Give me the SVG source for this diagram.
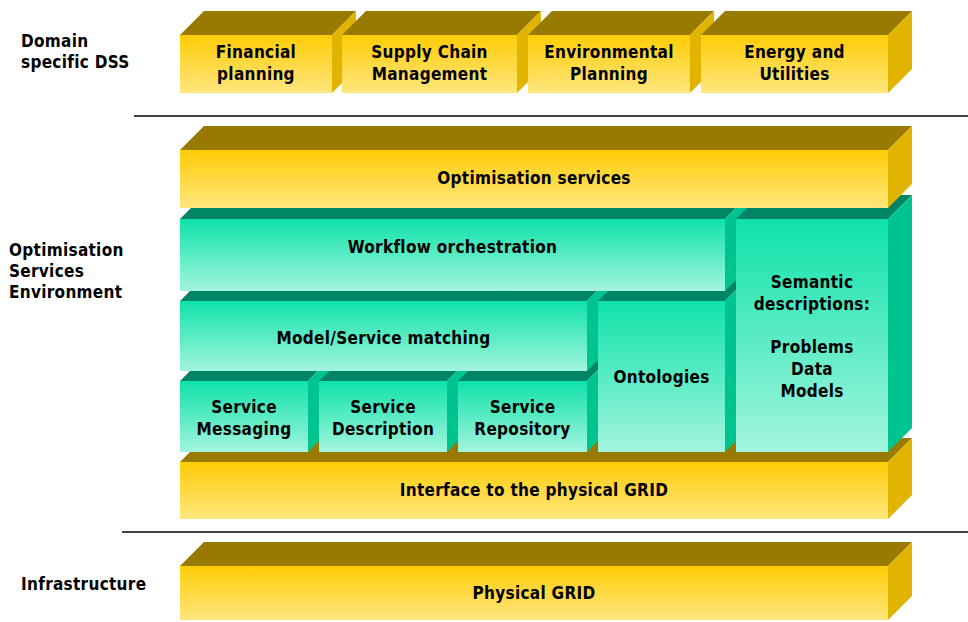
<svg xmlns="http://www.w3.org/2000/svg" width="968" height="622" viewBox="0 0 968 622">
<defs>
<linearGradient id="gy" x1="0" y1="0" x2="0" y2="1">
<stop offset="0" stop-color="#FFCC05"/>
<stop offset="1" stop-color="#FFE67F"/>
</linearGradient>
<linearGradient id="gg" x1="0" y1="0" x2="0" y2="1">
<stop offset="0" stop-color="#0FE2A9"/>
<stop offset="1" stop-color="#A3F5DE"/>
</linearGradient>
<style>
.yt{fill:#997A00}
.yr{fill:#E0B400}
.yf{fill:url(#gy)}
.gt{fill:#008564}
.gr{fill:#00C48F}
.gf{fill:url(#gg)}
.t{font-family:"DejaVu Sans","Liberation Sans",sans-serif;font-weight:bold;font-stretch:condensed;font-size:17px;letter-spacing:0.3px;fill:#000;text-anchor:middle}
.l{font-family:"DejaVu Sans","Liberation Sans",sans-serif;font-weight:bold;font-stretch:condensed;font-size:17px;letter-spacing:0.3px;fill:#000;text-anchor:start}
.sep{stroke:#000;stroke-width:1.5;fill:none}
</style>
</defs>
<g id="connectors">
<line class="sep" x1="134" y1="116" x2="968" y2="116"/>
<line class="sep" x1="122" y1="532" x2="968" y2="532"/>
</g>
<g id="labels">
<text class="l" x="21" y="47">Domain</text>
<text class="l" x="21" y="68">specific DSS</text>
<text class="l" x="9" y="256">Optimisation</text>
<text class="l" x="9" y="277">Services</text>
<text class="l" x="9" y="298">Environment</text>
<text class="l" x="21" y="590">Infrastructure</text>
</g>
<g id="physical-grid">
<polygon class="yt" points="180,566 204,542 912,542 888,566"/>
<polygon class="yr" points="888,566 912,542 912,596 888,620"/>
<rect class="yf" x="180" y="566" width="708" height="54"/>
<text class="t" x="534" y="599">Physical GRID</text>
</g>
<g id="interface">
<polygon class="yt" points="180,462 204,438 912,438 888,462"/>
<polygon class="yr" points="888,462 912,438 912,495 888,519"/>
<rect class="yf" x="180" y="462" width="708" height="57"/>
<text class="t" x="534" y="496">Interface to the physical GRID</text>
</g>
<g id="service-messaging">
<polygon class="gt" points="180,381 204,357 332,357 308,381"/>
<polygon class="gr" points="308,381 332,357 332,428 308,452"/>
<rect class="gf" x="180" y="381" width="128" height="71"/>
<text class="t" x="244" y="413">Service</text>
<text class="t" x="244" y="435">Messaging</text>
</g>
<g id="service-description">
<polygon class="gt" points="319,381 343,357 471,357 447,381"/>
<polygon class="gr" points="447,381 471,357 471,428 447,452"/>
<rect class="gf" x="319" y="381" width="128" height="71"/>
<text class="t" x="383" y="413">Service</text>
<text class="t" x="383" y="435">Description</text>
</g>
<g id="service-repository">
<polygon class="gt" points="458,381 482,357 611,357 587,381"/>
<polygon class="gr" points="587,381 611,357 611,428 587,452"/>
<rect class="gf" x="458" y="381" width="129" height="71"/>
<text class="t" x="522.5" y="413">Service</text>
<text class="t" x="522.5" y="435">Repository</text>
</g>
<g id="model-service-matching">
<polygon class="gt" points="180,301 204,277 611,277 587,301"/>
<polygon class="gr" points="587,301 611,277 611,347 587,371"/>
<rect class="gf" x="180" y="301" width="407" height="70"/>
<text class="t" x="383.5" y="344">Model/Service matching</text>
</g>
<g id="ontologies">
<polygon class="gt" points="598,301 622,277 749,277 725,301"/>
<polygon class="gr" points="725,301 749,277 749,428 725,452"/>
<rect class="gf" x="598" y="301" width="127" height="151"/>
<text class="t" x="661.5" y="383">Ontologies</text>
</g>
<g id="workflow-orchestration">
<polygon class="gt" points="180,219 204,195 749,195 725,219"/>
<polygon class="gr" points="725,219 749,195 749,267 725,291"/>
<rect class="gf" x="180" y="219" width="545" height="72"/>
<text class="t" x="452.5" y="253">Workflow orchestration</text>
</g>
<g id="semantic-descriptions">
<polygon class="gt" points="736,219 760,195 912,195 888,219"/>
<polygon class="gr" points="888,219 912,195 912,428 888,452"/>
<rect class="gf" x="736" y="219" width="152" height="233"/>
<text class="t" x="812" y="288">Semantic</text>
<text class="t" x="812" y="310">descriptions:</text>
<text class="t" x="812" y="353">Problems</text>
<text class="t" x="812" y="375">Data</text>
<text class="t" x="812" y="397">Models</text>
</g>
<g id="optimisation-services">
<polygon class="yt" points="180,150 204,126 912,126 888,150"/>
<polygon class="yr" points="888,150 912,126 912,184 888,208"/>
<rect class="yf" x="180" y="150" width="708" height="58"/>
<text class="t" x="534" y="184">Optimisation services</text>
</g>
<g id="financial-planning">
<polygon class="yt" points="180,35 204,11 356,11 332,35"/>
<polygon class="yr" points="332,35 356,11 356,69 332,93"/>
<rect class="yf" x="180" y="35" width="152" height="58"/>
<text class="t" x="256" y="58">Financial</text>
<text class="t" x="256" y="80">planning</text>
</g>
<g id="supply-chain-management">
<polygon class="yt" points="342,35 366,11 541,11 517,35"/>
<polygon class="yr" points="517,35 541,11 541,69 517,93"/>
<rect class="yf" x="342" y="35" width="175" height="58"/>
<text class="t" x="429.5" y="58">Supply Chain</text>
<text class="t" x="429.5" y="80">Management</text>
</g>
<g id="environmental-planning">
<polygon class="yt" points="528,35 552,11 714,11 690,35"/>
<polygon class="yr" points="690,35 714,11 714,69 690,93"/>
<rect class="yf" x="528" y="35" width="162" height="58"/>
<text class="t" x="609" y="58">Environmental</text>
<text class="t" x="609" y="80">Planning</text>
</g>
<g id="energy-and-utilities">
<polygon class="yt" points="701,35 725,11 912,11 888,35"/>
<polygon class="yr" points="888,35 912,11 912,69 888,93"/>
<rect class="yf" x="701" y="35" width="187" height="58"/>
<text class="t" x="794.5" y="58">Energy and</text>
<text class="t" x="794.5" y="80">Utilities</text>
</g>
</svg>
